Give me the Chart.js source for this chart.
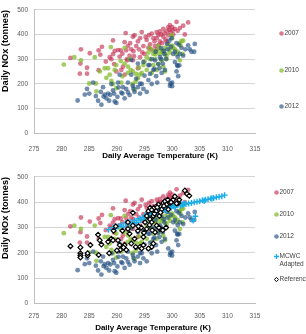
<!DOCTYPE html>
<html>
<head>
<meta charset="utf-8">
<script src="https://cdn.jsdelivr.net/npm/chart.js@4.4.0/dist/chart.umd.min.js"></script>
<style>
  body { margin: 0; background: #fff; font-family: "Liberation Sans", Arial, sans-serif; }
  #wrap { position: relative; width: 306px; height: 334px; overflow: hidden; }
  #wrap canvas { position: absolute; left: 0; }
  .key { position: absolute; display: flex; align-items: flex-start; font-size: 6.5px; line-height: 8px; color: #404040; white-space: nowrap; }
  .key svg { flex: none; margin-top: 1.5px; margin-right: 1px; }
  .xtitle { position: absolute; width: 200px; text-align: center; font-size: 8px; line-height: 10px; font-weight: bold; color: #000; white-space: nowrap; }
</style>
</head>
<body>
<div id="wrap">
  <canvas id="chartTop" width="306" height="167" style="top:0"></canvas>
  <canvas id="chartBottom" width="306" height="167" style="top:167px"></canvas>
  <div class="xtitle" style="left:60px; top:151px">Daily Average Temperature (K)</div>
  <div class="xtitle" style="left:53px; top:323px">Daily Average Temperature (K)</div>
</div>
<script>
const xTicks = [275, 280, 285, 290, 295, 300, 305, 310, 315];
const yTicks = [0, 100, 200, 300, 400, 500];

const temp2007 = [281.6,283.5,283.4,283.3,284.6,284.6,285.1,286.7,287.3,287.0,
  286.7,288.7,289.3,289.3,289.6,290.2,290.7,291.6,291.4,291.7,
  292.0,292.3,291.9,291.1,290.8,291.4,292.9,293.2,293.5,293.1,
  292.9,294.5,294.2,294.8,294.2,295.4,295.8,296.3,296.6,297.2,
  297.2,297.8,298.4,299.0,299.3,299.6,300.1,300.5,300.8,301.4,
  302.0,302.9,302.3,297.8,298.4,299.0,295.7,295.0,294.6,293.8,
  296.9,297.2,299.3,299.7,289.9,292.4,292.6,290.5,289.0,291.0,
  293.8,296.0,296.8,297.5,298.0,298.8,298.2,299.5,300.2,300.0,
  295.2,294.0,293.0,291.8,296.2,297.6,298.6,301.0,289.5,288.0];
const nox2007 = [305,340,282,241,241,265,324,336,350,318,
  255,308,376,320,333,337,336,406,369,336,
  353,314,295,269,256,237,391,397,353,312,
  295,410,385,353,308,378,397,404,385,385,
  410,413,423,413,429,438,417,423,451,426,
  436,449,400,372,391,372,346,321,327,263,
  353,340,397,410,250,365,340,310,300,322,
  372,360,372,398,400,380,365,420,400,430,
  390,340,332,300,340,358,405,415,280,290];

const temp2010 = [280.4,282.3,283.5,285.0,286.0,286.2,286.3,286.9,287.8,288.1,
  288.4,288.9,288.7,289.0,289.3,289.9,289.9,290.7,290.8,291.4,
  292.0,292.5,292.9,292.8,293.4,293.2,293.8,294.2,294.5,294.8,
  295.4,295.7,295.9,296.6,296.9,297.2,297.5,297.8,298.1,298.4,
  298.7,299.0,299.3,299.6,299.9,300.2,300.8,301.4,301.7,301.9,
  301.4,296.6,296.3,295.4,297.2,298.4,298.7,292.3,291.4,289.6,
  296.0,297.0,297.8,298.2,298.8,299.5,300.0,300.5,301.0,296.5,
  295.0,294.0,293.5,291.0,292.0,300.0,301.5,302.0,299.0,297.5];
const nox2010 = [278,308,295,201,308,201,169,250,263,224,
  263,349,237,212,199,276,182,292,205,346,
  244,256,250,199,209,176,222,237,244,276,
  308,327,346,321,301,333,353,321,295,333,
  346,314,359,327,397,346,321,365,374,321,
  295,276,244,256,256,269,250,301,282,256,
  300,320,340,330,320,340,355,340,330,335,
  290,265,240,230,270,385,355,375,300,280];

const temp2012 = [282.9,284.2,284.6,285.7,286.6,287.2,287.1,287.5,287.8,288.1,
  288.4,288.6,289.0,289.3,289.6,289.9,290.1,290.2,290.5,290.8,
  291.1,291.4,291.7,292.0,292.3,292.6,292.9,293.2,293.5,293.8,
  294.2,294.5,294.8,295.0,295.4,295.7,295.9,296.3,296.6,296.9,
  297.1,297.3,297.7,297.8,298.1,298.3,298.5,298.7,298.9,299.1,
  299.3,299.6,299.7,299.9,300.2,300.5,300.8,300.9,301.1,301.2,
  301.4,301.7,302.0,302.9,303.2,303.5,304.1,304.0,294.8,293.8,
  295.7,292.6,296.0,296.8,297.5,298.0,298.6,299.2,299.8,300.5,
  301.0,300.0,300.0,301.0,301.3,294.2,293.0,292.0,291.0,290.3,
  289.5,288.8,287.6,286.2,285.0,296.3,297.0,298.0,299.5,300.8,302.4];
const nox2012 = [132,156,179,205,131,115,167,186,156,141,
  160,131,199,173,128,122,147,205,237,164,
  186,141,179,205,154,237,192,167,221,186,
  160,199,179,233,167,215,276,199,256,295,
  231,205,263,308,244,282,333,256,301,362,
  218,192,201,385,321,288,250,276,231,359,
  321,346,314,356,340,330,362,330,288,282,
  276,297,240,260,280,300,320,340,350,330,
  310,190,205,272,275,200,180,165,160,185,
  160,155,148,150,160,300,330,345,375,365,340];

const tempMcwc = [288.5,289.3,289.8,290.3,290.8,291.2,291.6,292.0,292.4,292.8,
  293.2,293.6,294.0,294.3,294.7,295.0,295.3,295.6,295.9,296.2,
  296.5,296.8,297.1,297.4,297.7,298.0,298.3,298.6,298.9,299.2,
  299.5,299.8,300.2,300.6,301.0,301.5,302.0,302.5,303.0,303.5,
  304.0,304.5,305.0,305.5,306.0,306.5,307.0,307.5,308.0,308.5,
  309.0,309.5,303.8,304.2,296.0,297.5,299.0,300.5,302.2,305.8,
  307.2,293.0,295.5,298.2,301.8];
const noxMcwc = [292,300,296,305,310,303,318,312,322,315,
  328,320,335,330,340,345,338,350,355,346,
  360,352,365,358,370,366,374,370,378,375,
  382,378,384,381,388,386,390,393,395,397,
  400,402,404,408,410,412,415,417,420,422,
  424,428,328,345,335,348,368,380,395,405,
  415,310,358,372,392];

const tempRef = [281.6,283.4,283.4,283.4,283.4,284.7,284.7,285.2,286.6,286.9,
  287.2,286.7,288.4,288.6,289.0,289.3,289.4,289.8,290.2,290.5,
  290.6,291.0,291.4,291.7,292.0,292.0,292.3,292.6,292.9,292.9,
  293.2,293.4,293.8,294.2,294.5,294.8,295.1,295.4,295.4,295.7,
  296.0,296.0,296.3,296.6,296.7,296.9,297.1,297.2,297.5,297.7,
  297.8,298.1,298.4,298.7,299.0,299.3,299.6,300.2,300.5,301.1,
  302.3,302.7,303.1,296.3,295.7,296.6,294.8,296.3,296.8,297.3,
  297.9,298.5,299.2,299.8,300.8,301.3,294.4,293.9,294.9,295.9,
  296.4,297.6,298.3,298.9,291.2,290.0];
const noxRef = [227,222,199,190,182,190,199,231,272,250,
  233,192,244,199,256,250,288,305,250,231,
  212,288,231,212,295,321,276,237,359,308,
  256,224,288,224,218,231,321,346,295,365,
  378,333,321,346,378,282,365,308,391,346,
  295,372,397,404,391,372,397,410,423,397,
  446,433,426,224,218,237,263,370,355,380,
  360,385,410,400,395,410,300,305,280,310,
  290,300,290,300,222,210];

const pts = (xs, ys) => xs.map((x, i) => ({ x: x, y: ys[i] }));

const fontFamily = '"Liberation Sans", Arial, sans-serif';
const c2007 = 'rgba(192,36,74,0.6)';
const c2010 = 'rgba(128,184,40,0.72)';
const c2012 = 'rgba(32,76,128,0.64)';
const cMcwc = '#1aaee8';

function yearSets() {
    return [
        { label: '2007', data: pts(temp2007, nox2007), backgroundColor: c2007, pointRadius: 2.4, borderWidth: 0, order: 5 },
        { label: '2010', data: pts(temp2010, nox2010), backgroundColor: c2010, pointRadius: 2.4, borderWidth: 0, order: 4 },
        { label: '2012', data: pts(temp2012, nox2012), backgroundColor: c2012, pointRadius: 2.4, borderWidth: 0, order: 3 }
    ];
}

function makeChart(canvas, datasets, lay) {
    return new Chart(canvas, {
        type: 'scatter',
        data: { datasets: datasets },
        options: {
            responsive: false,
            animation: false,
            events: [],
            layout: { padding: { top: lay.top, right: 51, bottom: 0, left: 0 } },
            plugins: { legend: { display: false }, tooltip: { enabled: false } },
            scales: {
                x: {
                    type: 'linear', min: 275, max: 315,
                    afterBuildTicks: s => { s.ticks = xTicks.map(v => ({ value: v })); },
                    afterFit: s => { s.height = lay.xHeight; },
                    ticks: { padding: lay.tickPad, color: '#595959', font: { family: fontFamily, size: 6.5 }, maxRotation: 0, autoSkip: false },
                    grid: { display: false },
                    border: { color: '#bfbfbf' }
                },
                y: {
                    min: 0, max: 500,
                    afterBuildTicks: s => { s.ticks = yTicks.map(v => ({ value: v })); },
                    afterFit: s => { s.width = 34; },
                    ticks: { padding: 6, color: '#595959', font: { family: fontFamily, size: 6.5 } },
                    grid: { color: '#d4d4d4', drawTicks: false },
                    border: { color: '#bfbfbf' },
                    title: { display: true, text: 'Daily NOx (tonnes)', align: 'end', color: '#000', font: { family: fontFamily, size: 9.2, weight: 'bold' }, padding: 0 }
                }
            }
        }
    });
}

makeChart(document.getElementById('chartTop'), yearSets(), { top: 3.3, xHeight: 34, tickPad: 4 });

makeChart(document.getElementById('chartBottom'), yearSets().concat([
    { label: 'MCWC Adapted', data: pts(tempMcwc, noxMcwc), pointStyle: 'cross', pointRadius: 3, borderColor: cMcwc, borderWidth: 1.4, order: 2 },
    { label: 'Reference', data: pts(tempRef, noxRef), pointStyle: 'rectRot', pointRadius: 2.4, backgroundColor: '#fff', borderColor: '#000', borderWidth: 1.2, order: 1 }
]), { top: 6.7, xHeight: 30.3, tickPad: 1 });

// legends, drawn to the right of each plot
const markers = {
    '2007': '<svg width="5" height="5"><circle cx="2.5" cy="2.5" r="2.3" fill="' + c2007 + '"/></svg>',
    '2010': '<svg width="5" height="5"><circle cx="2.5" cy="2.5" r="2.3" fill="' + c2010 + '"/></svg>',
    '2012': '<svg width="5" height="5"><circle cx="2.5" cy="2.5" r="2.3" fill="' + c2012 + '"/></svg>',
    'MCWC Adapted': '<svg width="5" height="5"><path d="M2.5 0V5M0 2.5H5" stroke="' + cMcwc + '" stroke-width="1.3"/></svg>',
    'Reference': '<svg width="5" height="5"><path d="M2.5 0.4L4.6 2.5L2.5 4.6L0.4 2.5Z" fill="#fff" stroke="#000" stroke-width="1"/></svg>'
};
const topKeys = [['2007', 33], ['2010', 70], ['2012', 106]];
const bottomKeys = [['2007', 192], ['2010', 214], ['2012', 236], ['MCWC Adapted', 256], ['Reference', 279]];

function addKey(name, cy, left) {
    const d = document.createElement('div');
    d.className = 'key';
    d.style.left = left + 'px';
    d.style.top = (cy - 4) + 'px';
    const text = name === 'MCWC Adapted' ? 'MCWC<br>Adapted' : name;
    d.innerHTML = markers[name] + '<span>' + text + '</span>';
    document.getElementById('wrap').appendChild(d);
}
topKeys.forEach(k => addKey(k[0], k[1], 278.5));
bottomKeys.forEach(k => addKey(k[0], k[1], 273.5));
</script>
</body>
</html>
